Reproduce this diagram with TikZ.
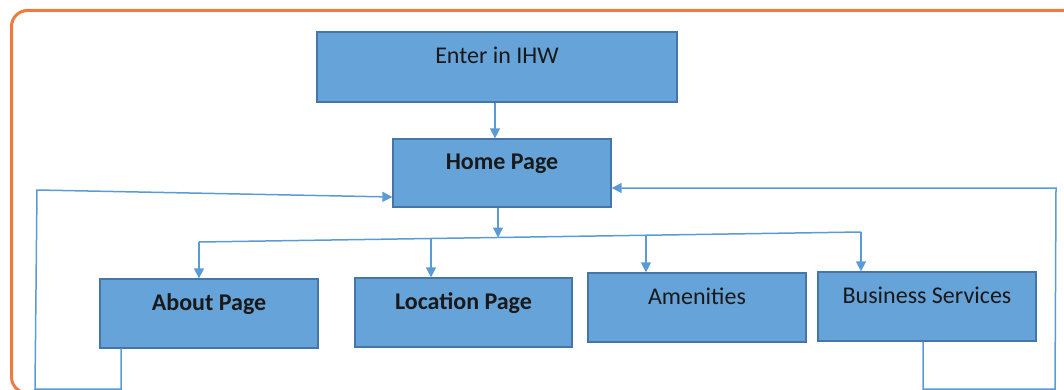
\documentclass[tikz,border=0pt]{standalone}
\usepackage{fontspec}
\setmainfont{Carlito}
\usetikzlibrary{arrows.meta}
\definecolor{boxfill}{HTML}{66A3D8}
\definecolor{boxline}{HTML}{4477A8}
\definecolor{conn}{HTML}{5B9BD5}
\definecolor{frameorange}{HTML}{F07A3E}
\begin{document}
\begin{tikzpicture}[x=1pt,y=-1pt,
  boxnode/.style={draw=boxline, fill=boxfill, line width=1.3pt, inner sep=0pt,
    minimum height=69pt, text height=16pt, text depth=22pt,
    font=\fontsize{24}{28}\selectfont, text=black!90},
  conline/.style={draw=conn, line width=1.5pt},
  conarrow/.style={conline, -{Triangle[width=10pt,length=10pt]}}]
\useasboundingbox (0,0) rectangle (1064,390);
\clip (0,0) rectangle (1064,390);
\draw[frameorange, line width=3pt, rounded corners=16pt] (11.5,10.5) rectangle (1090,393);
% boxes
\node[boxnode, minimum width=360pt, minimum height=70pt] (enter) at (497,67) {Enter in IHW};
\node[boxnode, minimum width=218pt, minimum height=68pt] (home) at (502,173) {\bfseries Home Page};
\node[boxnode, minimum width=218pt] (about) at (209,313.5) {\bfseries About Page};
\node[boxnode, minimum width=217pt] (location) at (463.5,312.5) {\bfseries Location Page};
\node[boxnode, minimum width=218pt] (amen) at (697,307.5) {Amenities};
\node[boxnode, minimum width=218pt] (bus) at (927,306.5) {Business Services};
% enter -> home
\draw[conarrow] ([xshift=-2pt]enter.south) -- ([xshift=-2pt]enter.south |- home.north);
% bus line
\coordinate (busL) at (199,242);
\coordinate (busR) at (861,232);
\coordinate (busM) at (498,237.5);
\coordinate (dLoc) at (431,238.5);
\coordinate (dAmen) at (646,235.2);
\draw[conarrow] ([xshift=-4pt]home.south) -- (busM);
\draw[conline] (busL) -- (busR);
\draw[conarrow] (busL) -- (busL |- about.north);
\draw[conarrow] (dLoc) -- (dLoc |- location.north);
\draw[conarrow] (dAmen) -- (dAmen |- amen.north);
\draw[conarrow] (busR) -- (busR |- bus.north);
% left loop
\coordinate (LB1) at (121,389);
\coordinate (LB2) at (35,389);
\coordinate (LT) at (37,190);
\draw[conarrow] ([xshift=-88pt]about.south) -- (LB1) -- (LB2) -- (LT) -- ([yshift=-24pt]home.west);
% right loop
\coordinate (RB1) at (923,389);
\coordinate (RB2) at (1055,389);
\coordinate (RT) at (1056,188);
\draw[conarrow] ([xshift=-4pt]bus.south) -- (RB1) -- (RB2) -- (RT) -- ([yshift=-15pt]home.east);
\end{tikzpicture}
\end{document}
